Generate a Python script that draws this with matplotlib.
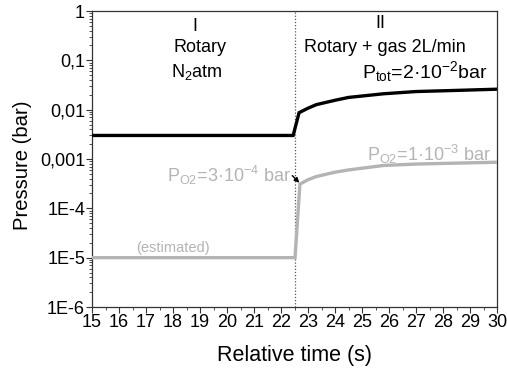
import matplotlib
matplotlib.use("Agg")
import matplotlib.pyplot as plt
from matplotlib.ticker import FixedLocator, MultipleLocator, LogLocator, NullFormatter

plt.rcParams['font.family'] = ['Liberation Sans', 'DejaVu Sans']
plt.rcParams['mathtext.fontset'] = 'custom'
plt.rcParams['mathtext.rm'] = 'Liberation Sans'
plt.rcParams['mathtext.it'] = 'Liberation Sans:italic'
plt.rcParams['mathtext.bf'] = 'Liberation Sans:bold'

# Data
t_tot = [15, 22.45, 22.67, 23.0, 23.3, 24.0, 24.5, 25.8, 27.0, 28.3, 30]
p_tot = [3e-3, 3e-3, 8.7e-3, 1.07e-2, 1.26e-2, 1.55e-2, 1.77e-2, 2.1e-2, 2.33e-2, 2.44e-2, 2.6e-2]
t_o2 = [15, 22.52, 22.7, 23.0, 23.3, 24.0, 24.5, 25.8, 27.0, 28.3, 30]
p_o2 = [1e-5, 1e-5, 3.1e-4, 3.8e-4, 4.4e-4, 5.4e-4, 6e-4, 7.4e-4, 7.9e-4, 8.2e-4, 8.6e-4]
t_switch = 22.5
x_ticks = list(range(15, 31))
y_ticks = [1e-6, 1e-5, 1e-4, 1e-3, 1e-2, 1e-1, 1]
y_tick_labels = ['1E-6', '1E-5', '1E-4', '0,001', '0,01', '0,1', '1']

fig = plt.figure(figsize=(5.07, 3.73), dpi=100)
ax = fig.add_axes([92/507, 66/373, 405/507, 296/373])

gray = '#b4b4b4'
ax.plot(t_o2, p_o2, color=gray, lw=2.4, solid_joinstyle='miter', zorder=3)
ax.plot(t_tot, p_tot, color='black', lw=2.4, solid_joinstyle='miter', zorder=4)
ax.axvline(t_switch, color='#555555', lw=0.9, ls=(0, (1, 1.5)), zorder=2)

ax.set_yscale('log')
ax.set_xlim(15, 30)
ax.set_ylim(1e-6, 1)
ax.xaxis.set_major_locator(FixedLocator(x_ticks))
ax.xaxis.set_minor_locator(MultipleLocator(0.5))
ax.yaxis.set_major_locator(FixedLocator(y_ticks))
ax.set_yticklabels(y_tick_labels)
ax.yaxis.set_minor_locator(LogLocator(base=10, subs=range(2, 10), numticks=20))
ax.yaxis.set_minor_formatter(NullFormatter())
ax.tick_params(axis='both', which='major', direction='out', length=4, width=0.8,
               labelsize=13, color='#333333', pad=1)
ax.tick_params(axis='both', which='minor', direction='out', length=2.5, width=0.6, color='#333333')
for s in ax.spines.values():
    s.set_linewidth(0.9)
    s.set_color('#333333')

ax.set_xlabel('Relative time (s)', fontsize=15.5, labelpad=10)
ax.set_ylabel('Pressure (bar)', fontsize=14.6)
ax.yaxis.set_label_coords(-0.148, 0.48)

tr = ax.transAxes
fs = 13
ax.text(0.254, 0.946, 'I', transform=tr, ha='center', va='center', fontsize=fs)
ax.text(0.267, 0.875, 'Rotary', transform=tr, ha='center', va='center', fontsize=fs)
ax.text(0.259, 0.795, r'N$_{\mathrm{2}}$atm', transform=tr, ha='center', va='center', fontsize=fs)
ax.text(0.711, 0.959, 'II', transform=tr, ha='center', va='center', fontsize=fs)
ax.text(0.722, 0.875, 'Rotary + gas 2L/min', transform=tr, ha='center', va='center', fontsize=fs)
ax.text(0.822, 0.794, r'P$_{\mathrm{tot}}$=2·10$^{\mathrm{-2}}$bar', transform=tr,
        ha='center', va='center', fontsize=14)
ax.text(0.832, 0.514, r'P$_{\mathrm{O2}}$=1·10$^{\mathrm{-3}}$ bar', transform=tr,
        ha='center', va='center', fontsize=fs, color=gray)
ax.text(0.338, 0.446, r'P$_{\mathrm{O2}}$=3·10$^{\mathrm{-4}}$ bar', transform=tr,
        ha='center', va='center', fontsize=fs, color=gray)
ax.text(0.199, 0.2, '(estimated)', transform=tr, ha='center', va='center',
        fontsize=10.5, color=gray)
ax.annotate('', xy=(22.68, 3.3e-4), xytext=(22.42, 4.6e-4),
            arrowprops=dict(arrowstyle='-|>', color='black', lw=1.0,
                            mutation_scale=7, shrinkA=0, shrinkB=0), zorder=5)

fig.savefig('out.png', dpi=100)
